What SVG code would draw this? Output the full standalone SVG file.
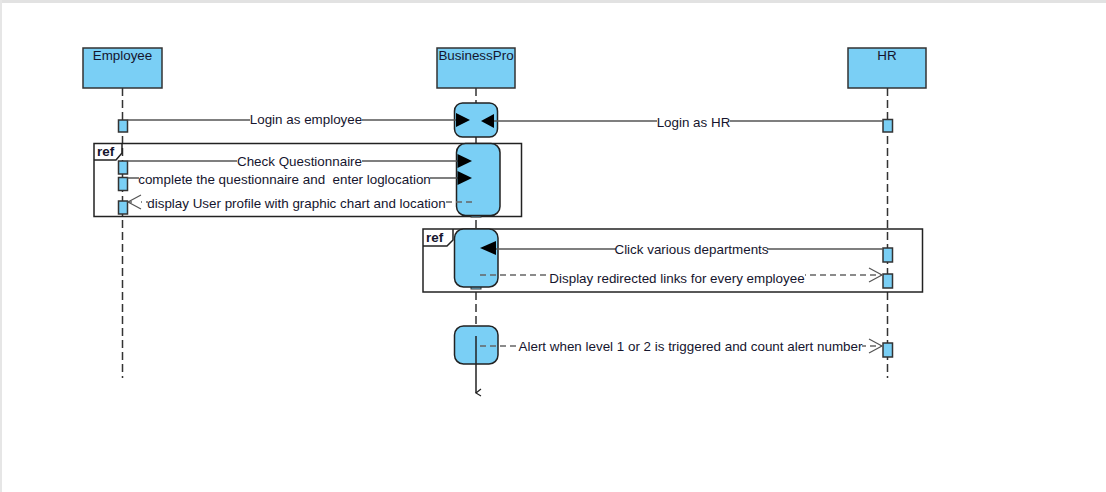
<svg xmlns="http://www.w3.org/2000/svg" width="1106" height="492" viewBox="0 0 1106 492">
<style>
text{font-family:"Liberation Sans",Arial,sans-serif;font-size:13.4px;fill:#15152e;white-space:pre}
.head{fill:#7acff5;stroke:#333;stroke-width:1.5}
.act{fill:#7acff5;stroke:#333;stroke-width:1.5}
.node{fill:#7acff5;stroke:#222;stroke-width:1.5}
.life{stroke:#333;stroke-width:1.5;stroke-dasharray:8 4;fill:none}
.msg{stroke:#555;stroke-width:1.5;fill:none}
.ret{stroke:#666;stroke-width:1.5;stroke-dasharray:6 4;fill:none}
.open{stroke:#555;stroke-width:1.2;fill:none}
.tri{fill:#000}
.frame{fill:none;stroke:#222;stroke-width:1.5}
.lbl{text-anchor:middle;dominant-baseline:central}
.bg{fill:#fff}
</style>
<rect x="0" y="0" width="1106" height="492" fill="#fff"/>
<rect x="0" y="0" width="1106" height="3" fill="#e2e2e2"/>
<rect x="0" y="0" width="2" height="492" fill="#e6e6e6"/>

<g id="lifelines">
<line class="life" x1="122.5" y1="88" x2="122.5" y2="378"/>
<line class="life" x1="887.5" y1="88" x2="887.5" y2="378"/>
<line class="life" x1="476" y1="88" x2="476" y2="336"/>
<line stroke="#222" stroke-width="1.5" x1="476" y1="336" x2="476" y2="393"/>
<path d="M481 389 L476 393 L481 396" stroke="#222" stroke-width="1.2" fill="none"/>
</g>

<g id="employee"><rect class="head" x="83" y="48" width="79" height="40"/><text x="122.5" y="60" text-anchor="middle">Employee</text></g>
<g id="businesspro"><rect class="head" x="437" y="48" width="78" height="40"/><text x="476" y="60" text-anchor="middle">BusinessPro</text></g>
<g id="hr"><rect class="head" x="848" y="48" width="78" height="40"/><text x="887" y="60" text-anchor="middle">HR</text></g>

<g id="ref1">
<rect class="frame" x="94" y="143.5" width="427.5" height="73"/>
<path class="frame" d="M94 160 H116 L122 153 V143.5"/>
<text x="97" y="156" style="font-weight:bold">ref</text>
</g>
<g id="ref2">
<rect class="frame" x="423" y="229" width="499.5" height="63"/>
<path class="frame" d="M423 246 H447 L453 240 V229"/>
<text x="426" y="242" style="font-weight:bold">ref</text>
</g>

<g id="activations">
<rect class="act" x="118.5" y="120" width="9" height="12"/>
<rect class="act" x="118.5" y="161" width="9" height="13"/>
<rect class="act" x="118.5" y="177.5" width="9" height="13"/>
<rect class="act" x="118.5" y="201" width="9" height="13"/>
<rect class="act" x="883" y="119.5" width="9.5" height="12.5"/>
<rect class="act" x="883" y="248" width="9.5" height="14"/>
<rect class="act" x="883" y="274" width="9.5" height="14"/>
<rect class="act" x="883" y="343" width="9.5" height="14"/>
</g>

<g id="bp-node1"><rect class="node" x="454.5" y="103" width="43" height="34" rx="8"/></g>
<g id="bp-node2"><rect x="471" y="213" width="10" height="4" fill="#5aa9cc" stroke="#333"/><rect class="node" x="456.5" y="143.5" width="43.5" height="72" rx="9"/></g>
<g id="bp-node3"><rect x="471" y="286" width="10" height="3" fill="#7acff5" stroke="#333"/><rect class="node" x="454.5" y="229" width="43.5" height="58" rx="9"/></g>
<g id="bp-node4"><rect class="node" x="454.5" y="326" width="43.5" height="38" rx="9"/><line stroke="#222" stroke-width="1.5" x1="476" y1="336" x2="476" y2="364"/></g>

<g id="connectors">
<line class="msg" x1="127.5" y1="120" x2="456" y2="120"/>
<rect class="bg" x="250" y="112" width="112" height="15"/>
<text class="lbl" x="306" y="119">Login as employee</text>
<polygon class="tri" points="456,113 470,120 456,127"/>

<line class="msg" x1="883" y1="121" x2="494" y2="121"/>
<rect class="bg" x="657" y="113" width="73" height="15"/>
<text class="lbl" x="693.5" y="122">Login as HR</text>
<polygon class="tri" points="494,114 481,121 494,128"/>

<line class="msg" x1="127.5" y1="161" x2="458" y2="161"/>
<rect class="bg" x="237" y="154" width="125" height="15"/>
<text class="lbl" x="299.5" y="161">Check Questionnaire</text>
<polygon class="tri" points="457.5,154 472,161 457.5,168"/>

<line class="msg" x1="127.5" y1="178" x2="458" y2="178"/>
<rect class="bg" x="139" y="171" width="291" height="15"/>
<text class="lbl" x="284.5" y="179">complete the questionnaire and  enter loglocation</text>
<polygon class="tri" points="457.5,171 472,178 457.5,185"/>

<line class="ret" x1="472" y1="202" x2="128" y2="202"/>
<rect class="bg" x="148" y="195" width="297" height="15"/>
<rect class="bg" x="136" y="195" width="5" height="15"/>
<text class="lbl" x="296.5" y="203">display User profile with graphic chart and location</text>
<path class="open" d="M141 195 L128 202 L141 209"/>

<line class="msg" x1="883" y1="249" x2="494" y2="249"/>
<rect class="bg" x="616" y="242" width="151" height="15"/>
<text class="lbl" x="691.5" y="249">Click various departments</text>
<polygon class="tri" points="496,241 480,248 496,255"/>

<line class="ret" x1="480" y1="275" x2="882" y2="275"/>
<rect class="bg" x="549" y="268" width="256" height="16"/>
<text class="lbl" x="677" y="278">Display redirected links for every employee</text>
<path class="open" d="M869 268 L882 275 L869 282"/>

<line class="ret" x1="480" y1="346" x2="882" y2="346"/>
<rect class="bg" x="519" y="339" width="343" height="15"/>
<text class="lbl" x="690.5" y="346">Alert when level 1 or 2 is triggered and count alert number</text>
<path class="open" d="M869 339 L882 346 L869 353"/>
</g>
</svg>
